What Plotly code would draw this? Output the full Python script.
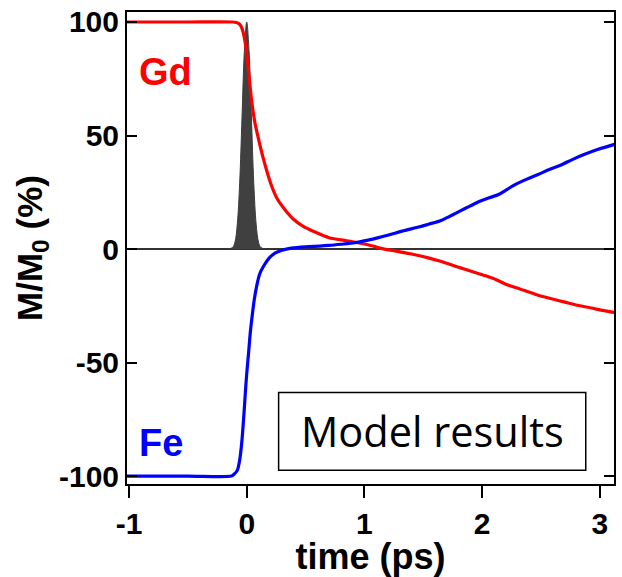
import plotly.graph_objects as go

# ---- data ----
gd_t = [-1.02, -0.5, -0.12, -0.09, -0.07, -0.05, -0.03, -0.01, 0.0, 0.02, 0.045, 0.07, 0.10,
        0.13, 0.17, 0.21, 0.26, 0.33, 0.40, 0.48, 0.58, 0.70, 0.80, 0.90, 1.0, 1.07, 1.14,
        1.27, 1.40, 1.55, 1.64, 1.81, 1.92, 2.03, 2.12, 2.20, 2.32, 2.45, 2.58, 2.71, 2.82,
        2.93, 3.02, 3.13]
gd_m = [100, 100, 100, 99.8, 99.4, 98.3, 95.5, 90, 86, 76, 64, 55.5, 48.5,
        42, 34.5, 28, 22, 17, 13, 10, 7.5, 5, 4, 3.2, 2.2, 1.3, 0.3,
        -0.9, -2.2, -4, -5.3, -8.2, -10, -11.8, -13.5, -15.5, -17.6, -19.9, -21.8, -23.5, -24.9,
        -26, -27, -28]

fe_t = [-1.02, -0.5, -0.13, -0.11, -0.08, -0.06, -0.04, -0.02, -0.01, 0.0, 0.017, 0.03, 0.045,
        0.065, 0.088, 0.11, 0.144, 0.19, 0.24, 0.30, 0.38, 0.50, 0.62, 0.70, 0.80, 0.92, 1.02,
        1.12, 1.22, 1.32, 1.47, 1.55, 1.64, 1.72, 1.81, 1.90, 1.98, 2.06, 2.14, 2.21, 2.28,
        2.38, 2.47, 2.57, 2.67, 2.77, 2.86, 2.98, 3.13]
fe_m = [-100, -100, -100, -99.3, -97.5, -93, -84, -70, -62, -55, -45, -37, -30,
        -22, -15.5, -11, -7.5, -4, -1.8, -0.5, 0.4, 1, 1.3, 1.6, 2.1, 2.8, 3.8,
        5, 6.4, 7.9, 9.8, 11, 12.3, 14.3, 16.7, 19, 21, 22.6, 24, 26.2, 28.4,
        30.8, 32.7, 35, 37, 39.5, 41.5, 43.8, 46.2]

pulse_t = [-0.16, -0.12, -0.10, -0.08, -0.06, -0.04, -0.02, 0.0, 0.02, 0.04, 0.06, 0.08, 0.10, 0.12, 0.16]
pulse_h = [0, 0.7, 3, 11, 29, 58, 87, 100, 87, 58, 29, 11, 3, 0.7, 0]

x_ticks = [-1, 0, 1, 2, 3]
y_ticks = [-100, -50, 0, 50, 100]

FONT = "Liberation Sans, Arial, sans-serif"

fig = go.Figure()
fig.add_trace(go.Scatter(x=pulse_t, y=pulse_h, mode="lines", fill="tozeroy",
                         line=dict(color="#3c3c3c", width=1, shape="spline"),
                         fillcolor="#404040", hoverinfo="skip", showlegend=False))
fig.add_trace(go.Scatter(x=gd_t, y=gd_m, mode="lines", name="Gd",
                         line=dict(color="#ff0000", width=3.2, shape="spline", smoothing=0.8),
                         showlegend=False))
fig.add_trace(go.Scatter(x=fe_t, y=fe_m, mode="lines", name="Fe",
                         line=dict(color="#0000ff", width=3.2, shape="spline", smoothing=0.8),
                         showlegend=False))

fig.add_annotation(x=-0.69, y=78, text="<b>Gd</b>", showarrow=False,
                   font=dict(family=FONT, size=38, color="#ff0000"))
fig.add_annotation(x=-0.73, y=-85.5, text="<b>Fe</b>", showarrow=False,
                   font=dict(family=FONT, size=38, color="#0000ff"))

fig.add_shape(type="rect", x0=0.271, x1=2.88, y0=-97.4, y1=-63.2,
              line=dict(color="black", width=1.5), fillcolor="white", layer="above")
fig.add_annotation(x=1.58, y=-80.3, text="Model results", showarrow=False,
                   font=dict(family="Open Sans, sans-serif", size=41.5, color="black"))

fig.update_layout(
    width=622, height=577,
    margin=dict(l=127, r=6, t=11, b=93),
    paper_bgcolor="white", plot_bgcolor="white",
    font=dict(family=FONT, color="black"),
    xaxis=dict(range=[-1.017, 3.12], tickvals=x_ticks, ticktext=[str(v) for v in x_ticks],
               ticks="outside", ticklen=12, tickwidth=2, tickcolor="black",
               showline=True, linewidth=2, linecolor="black", mirror=True,
               showgrid=False, zeroline=False,
               tickfont=dict(family=FONT, size=30, weight="bold"),
               title=dict(text="<b>time (ps)</b>", font=dict(family=FONT, size=36), standoff=0)),
    yaxis=dict(range=[-103.5, 104.4], tickvals=y_ticks, ticktext=[str(v) for v in y_ticks],
               ticks="inside", ticklen=10, tickwidth=2, tickcolor="black",
               showline=True, linewidth=2, linecolor="black", mirror="ticks",
               showgrid=False, zeroline=True, zerolinecolor="#333333", zerolinewidth=2,
               tickfont=dict(family=FONT, size=30, weight="bold"),
               title=dict(text="<b>M/M<sub>0</sub> (%)</b>", font=dict(family=FONT, size=35), standoff=6)),
)

fig.write_html("out.html")
